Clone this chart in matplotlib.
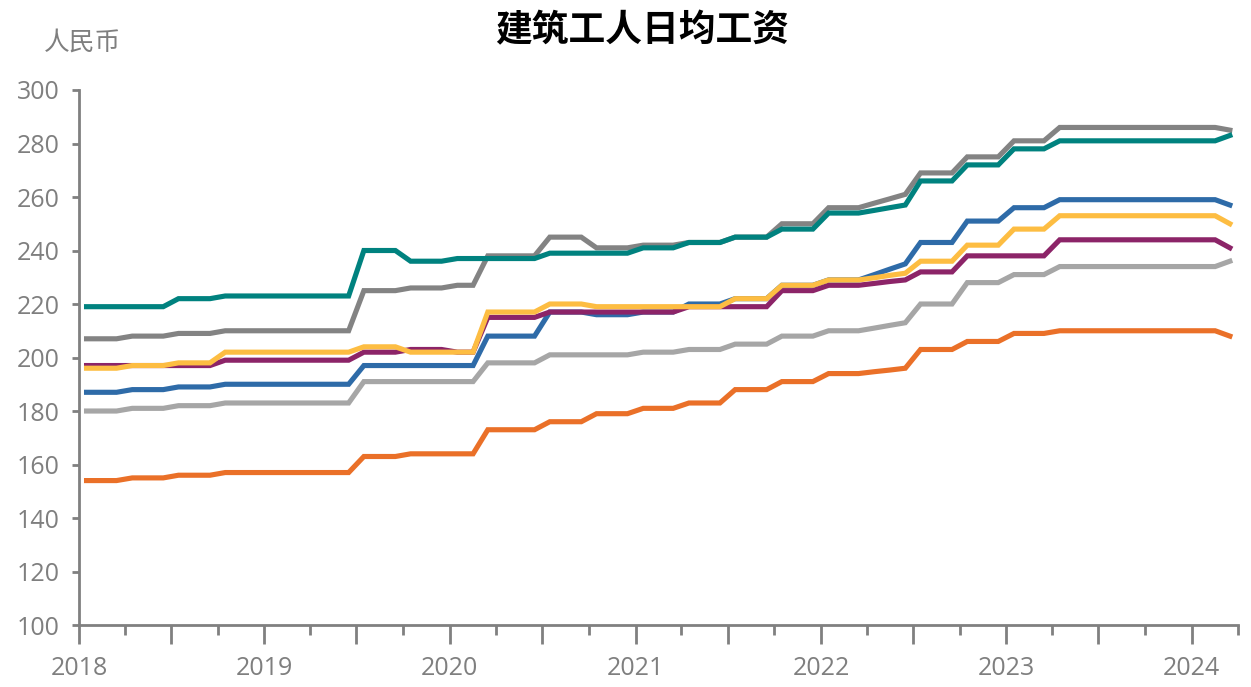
import matplotlib.pyplot as plt
import matplotlib.dates as mdates
import numpy as np
import pandas as pd

# 月度数据 2018-01 ~ 2024-03
months = pd.date_range("2018-01-01", "2024-03-01", freq="MS") + pd.Timedelta(days=15)

gray = [207, 207, 207, 208, 208, 208, 209, 209, 209, 210, 210, 210,
        210, 210, 210, 210, 210, 210, 225, 225, 225, 226, 226, 226,
        227, 227, 238, 238, 238, 238, 245, 245, 245, 241, 241, 241,
        242, 242, 242, 243, 243, 243, 245, 245, 245, 250, 250, 250,
        256, 256, 256, 257.7, 259.3, 261, 269, 269, 269, 275, 275, 275,
        281, 281, 281, 286, 286, 286, 286, 286, 286, 286, 286, 286,
        286, 286, 285]
teal = [219, 219, 219, 219, 219, 219, 222, 222, 222, 223, 223, 223,
        223, 223, 223, 223, 223, 223, 240, 240, 240, 236, 236, 236,
        237, 237, 237, 237, 237, 237, 239, 239, 239, 239, 239, 239,
        241, 241, 241, 243, 243, 243, 245, 245, 245, 248, 248, 248,
        254, 254, 254, 255, 256, 257, 266, 266, 266, 272, 272, 272,
        278, 278, 278, 281, 281, 281, 281, 281, 281, 281, 281, 281,
        281, 281, 283]
blue = [187, 187, 187, 188, 188, 188, 189, 189, 189, 190, 190, 190,
        190, 190, 190, 190, 190, 190, 197, 197, 197, 197, 197, 197,
        197, 197, 208, 208, 208, 208, 217, 217, 217, 216, 216, 216,
        217, 217, 217, 220, 220, 220, 222, 222, 222, 227, 227, 227,
        229, 229, 229, 231, 233, 235, 243, 243, 243, 251, 251, 251,
        256, 256, 256, 259, 259, 259, 259, 259, 259, 259, 259, 259,
        259, 259, 257]
purple = [197, 197, 197, 197, 197, 197, 197, 197, 197, 199, 199, 199,
          199, 199, 199, 199, 199, 199, 202, 202, 202, 203, 203, 203,
          202, 202, 215, 215, 215, 215, 217, 217, 217, 217, 217, 217,
          217, 217, 217, 219, 219, 219, 219, 219, 219, 225, 225, 225,
          227, 227, 227, 227.7, 228.4, 229, 232, 232, 232, 238, 238, 238,
          238, 238, 238, 244, 244, 244, 244, 244, 244, 244, 244, 244,
          244, 244, 241]
yellow = [196, 196, 196, 197, 197, 197, 198, 198, 198, 202, 202, 202,
          202, 202, 202, 202, 202, 202, 204, 204, 204, 202, 202, 202,
          202, 202, 217, 217, 217, 217, 220, 220, 220, 219, 219, 219,
          219, 219, 219, 219, 219, 219, 222, 222, 222, 227, 227, 227,
          229, 229, 229, 229.8, 230.7, 231.5, 236, 236, 236, 242, 242, 242,
          248, 248, 248, 253, 253, 253, 253, 253, 253, 253, 253, 253,
          253, 253, 250]
lgray = [180, 180, 180, 181, 181, 181, 182, 182, 182, 183, 183, 183,
         183, 183, 183, 183, 183, 183, 191, 191, 191, 191, 191, 191,
         191, 191, 198, 198, 198, 198, 201, 201, 201, 201, 201, 201,
         202, 202, 202, 203, 203, 203, 205, 205, 205, 208, 208, 208,
         210, 210, 210, 211, 212, 213, 220, 220, 220, 228, 228, 228,
         231, 231, 231, 234, 234, 234, 234, 234, 234, 234, 234, 234,
         234, 234, 236]
orange = [154, 154, 154, 155, 155, 155, 156, 156, 156, 157, 157, 157,
          157, 157, 157, 157, 157, 157, 163, 163, 163, 164, 164, 164,
          164, 164, 173, 173, 173, 173, 176, 176, 176, 179, 179, 179,
          181, 181, 181, 183, 183, 183, 188, 188, 188, 191, 191, 191,
          194, 194, 194, 194.7, 195.3, 196, 203, 203, 203, 206, 206, 206,
          209, 209, 209, 210, 210, 210, 210, 210, 210, 210, 210, 210,
          210, 210, 208]

series = [(gray, "#838383"), (teal, "#00827F"), (blue, "#2E6BA8"),
          (purple, "#8C2468"), (yellow, "#FDBD42"), (lgray, "#A6A6A6"),
          (orange, "#EA7028")]

plt.rcParams['font.family'] = ['Open Sans', 'Noto Sans CJK SC', 'DejaVu Sans']
axcol = "#808080"

fig = plt.figure(figsize=(12.51, 6.87), dpi=100)
ax = fig.add_axes([0.0631, 0.0902, 0.9265, 0.7788])

for vals, c in series:
    ax.plot(months, vals, color=c, lw=3.7, solid_joinstyle="miter")

ax.set_ylim(100, 300)
ax.set_yticks(np.arange(100, 301, 20))
ax.set_xlim(pd.Timestamp("2018-01-01"), pd.Timestamp("2024-04-01"))

ax.xaxis.set_major_locator(mdates.MonthLocator(bymonth=[1, 7]))
ax.xaxis.set_minor_locator(mdates.MonthLocator(bymonth=[4, 10]))
ax.xaxis.set_major_formatter(plt.FuncFormatter(
    lambda v, p: mdates.num2date(v).strftime("%Y") if mdates.num2date(v).month == 1 else ""))

for s in ["top", "right"]:
    ax.spines[s].set_visible(False)
for s in ["left", "bottom"]:
    ax.spines[s].set_color(axcol)
    ax.spines[s].set_linewidth(2)

ax.tick_params(axis="y", which="major", length=5, width=2, color=axcol,
               labelcolor="#7f7f7f", labelsize=18, pad=9)
ax.tick_params(axis="x", which="major", length=14, width=2, color=axcol,
               labelcolor="#7f7f7f", labelsize=18, pad=8)
ax.tick_params(axis="x", which="minor", length=7, width=2, color=axcol)

fig.text(0.513, 0.955, "建筑工人日均工资", ha="center", va="center",
         fontsize=26.5, fontweight="bold", family=["Noto Sans CJK SC"])
fig.text(0.035, 0.938, "人民币", ha="left", va="center", fontsize=18.5,
         color="#7f7f7f", family=["Noto Sans CJK SC"])

fig.savefig("out.png", dpi=100)
